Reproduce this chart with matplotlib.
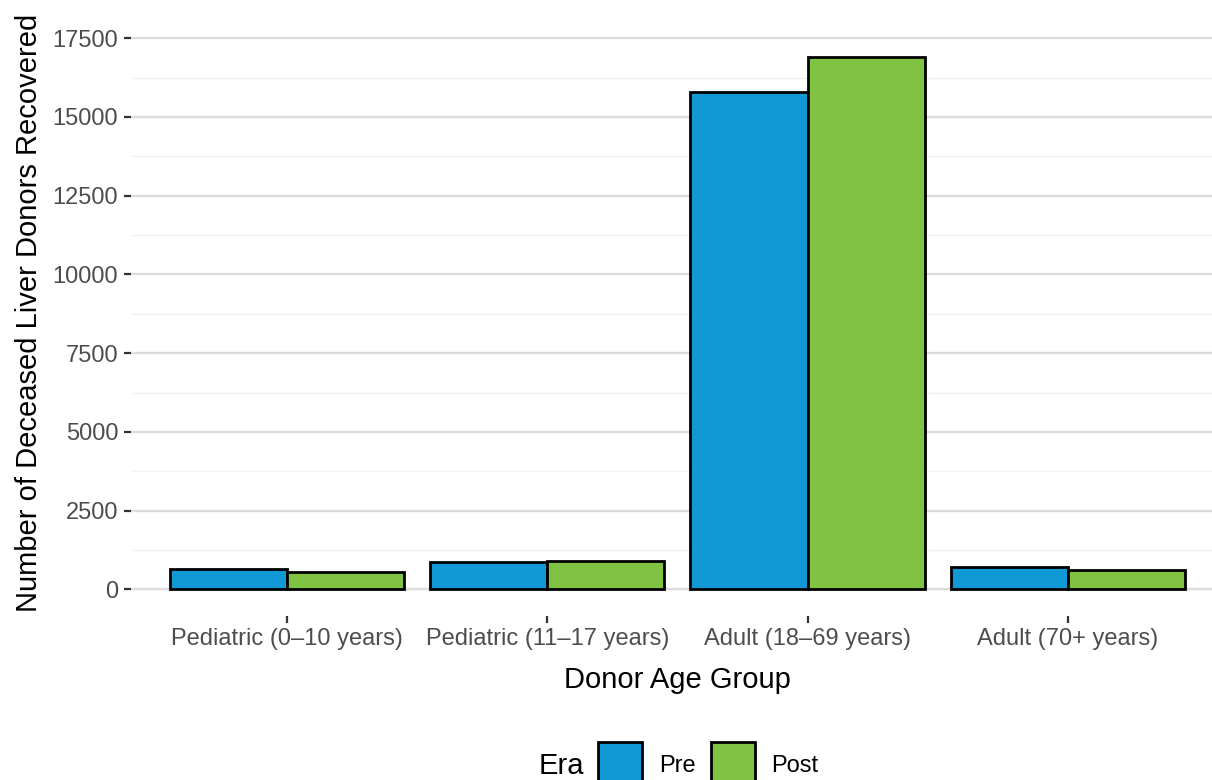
import matplotlib
matplotlib.use("Agg")
import matplotlib.pyplot as plt
from matplotlib.patches import Rectangle
import numpy as np

plt.rcParams['font.family'] = ['Liberation Sans', 'DejaVu Sans']

groups = ["Pediatric (0\u201310 years)", "Pediatric (11\u201317 years)",
          "Adult (18\u201369 years)", "Adult (70+ years)"]
eras = ["Pre", "Post"]
pre_counts = [641, 863, 15803, 714]
post_counts = [546, 895, 16895, 619]
era_colors = {"Pre": "#1199D6", "Post": "#80C242"}
y_ticks = [0, 2500, 5000, 7500, 10000, 12500, 15000, 17500]

W, H = 1212, 780
fig = plt.figure(figsize=(W / 200, H / 200), dpi=200)
# panel placed in pixel terms (ggplot-like layout)
left, right, bottom, top = 130.7, 1224, 616, 30.7
ax = fig.add_axes([left / W, 1 - bottom / H, (right - left) / W, (bottom - top) / H])

x = np.arange(len(groups))
bw = 0.45
for i, (era, vals) in enumerate(zip(eras, [pre_counts, post_counts])):
    ax.bar(x + (i - 0.5) * bw, vals, width=bw, color=era_colors[era],
           edgecolor="black", linewidth=1.0, zorder=3)

ymax = max(max(pre_counts), max(post_counts))
ax.set_ylim(-0.05 * ymax, ymax * 1.05)
ax.set_xlim(-0.6, len(groups) - 0.4)

ax.set_yticks(y_ticks)
ax.set_yticks(np.arange(1250, 17500, 2500), minor=True)
ax.set_xticks(x)
ax.set_xticklabels(groups)
ax.grid(axis="y", which="major", color="#DCDCDC", linewidth=0.85, zorder=0)
ax.grid(axis="y", which="minor", color="#F2F2F2", linewidth=0.45, zorder=0)
ax.grid(axis="x", visible=False)
ax.tick_params(axis="both", which="major", length=2.5, width=0.8, color="#333333",
               labelcolor="#4D4D4D", labelsize=8.5, pad=2.0)
ax.tick_params(axis="y", which="minor", length=0)
for s in ax.spines.values():
    s.set_visible(False)

ax.set_xlabel("Donor Age Group", fontsize=10.5, labelpad=5.5)
ax.set_ylabel("Number of Deceased Liver Donors Recovered", fontsize=10.5, labelpad=3.5)
ax.yaxis.label.set_y(0.518)

# legend at bottom, title to the left of keys
def fx(px):
    return px / W

def fy(py):
    return 1 - py / H

fig.text(fx(561), fy(766), "Era", fontsize=10.5, ha="center", va="center")
for era, kx, tx in [("Pre", 598, 659), ("Post", 711, 771)]:
    fig.add_artist(Rectangle((fx(kx), fy(786)), fx(44), 44 / H,
                             transform=fig.transFigure, facecolor=era_colors[era],
                             edgecolor="black", linewidth=1.0, clip_on=False))
    fig.text(fx(tx), fy(766), era, fontsize=8.5, ha="left", va="center")

fig.savefig("out.png", dpi=200, facecolor="white")
